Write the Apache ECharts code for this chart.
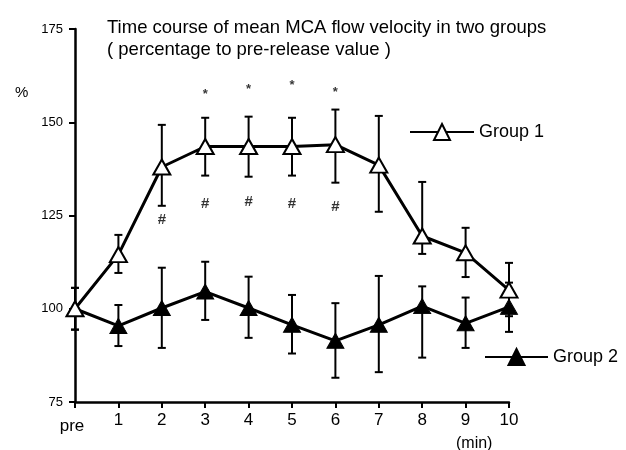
<!DOCTYPE html>
<html>
<head>
<meta charset="utf-8">
<script src="https://cdn.jsdelivr.net/npm/echarts@6/dist/echarts.min.js"></script>
<style>html,body{margin:0;padding:0;background:#fff}#c{width:626px;height:450px}</style>
</head>
<body>
<div id="c"></div>
<script>
// ---- data ----
const xValues = [0, 1, 2, 3, 4, 5, 6, 7, 8, 9, 10];
const xTickLabels = ['pre', '1', '2', '3', '4', '5', '6', '7', '8', '9', '10'];
const yTicks = [75, 100, 125, 150, 175];

const group1Mean  = [100, 114.5, 138, 143.5, 143.5, 143.5, 144, 138.5, 119.5, 115, 105];
const group1Upper = [105.6, 119.8, 149.3, 151.2, 151.5, 151.2, 153.4, 151.7, 134, 121.7, 112.3];
const group1Lower = [94.4, 109.6, 127.6, 135.7, 135.4, 135.7, 133.8, 126, 114.7, 108.5, 98];

const group2Mean  = [100, 95.4, 100.2, 104.6, 100.2, 95.7, 91.4, 95.7, 100.7, 96.1, 100.5];
const group2Upper = [105.6, 101, 111, 112.6, 108.6, 103.7, 101.5, 108.8, 106, 103, 107];
const group2Lower = [94.4, 90, 89.5, 97, 92.2, 88, 81.5, 83, 86.9, 89.5, 93.8];

// significance marks (x, y in data units)
const starX = [3, 4, 5, 6];
const starY = [157.4, 158.7, 159.8, 157.9];
const hashX = [2, 3, 4, 5, 6];
const hashY = [123.9, 128.1, 128.7, 128.1, 127.3];

const titleLines = ['Time course of mean MCA flow velocity in two groups', '( percentage to pre-release value )'];

// ---- build ----
const FONT = 'Liberation Sans, Arial, Helvetica, sans-serif';
function errData(lo, hi) { return xValues.map((x, i) => [x, lo[i], hi[i]]); }
function errRender(params, api) {
  const x = api.value(0);
  const p1 = api.coord([x, api.value(1)]);
  const p2 = api.coord([x, api.value(2)]);
  const w = 4;
  const st = { stroke: '#000', lineWidth: 2 };
  return {
    type: 'group',
    children: [
      { type: 'line', shape: { x1: p1[0], y1: p1[1], x2: p2[0], y2: p2[1] }, style: st },
      { type: 'line', shape: { x1: p1[0] - w, y1: p1[1], x2: p1[0] + w, y2: p1[1] }, style: st },
      { type: 'line', shape: { x1: p2[0] - w, y1: p2[1], x2: p2[0] + w, y2: p2[1] }, style: st }
    ]
  };
}

const chart = echarts.init(document.getElementById('c'), null, { renderer: 'canvas' });
chart.setOption({
  backgroundColor: '#fff',
  animation: false,
  textStyle: { fontFamily: FONT },
  grid: { left: 75, right: 117, top: 29, bottom: 48, containLabel: false },
  title: {
    text: titleLines.join('\n'),
    left: 102, top: 12,
    textStyle: { fontFamily: FONT, fontSize: 18.5, fontWeight: 'normal', color: '#000', lineHeight: 22 }
  },
  graphic: [
    { type: 'text', left: 15, top: 85, style: { text: '%', font: '15px ' + FONT, fill: '#000' } },
    { type: 'text', left: 456, top: 436, style: { text: '(min)', font: '16px ' + FONT, fill: '#000' } }
  ],
  legend: [
    { data: ['Group 1'], left: 404, top: 118, itemWidth: 64, itemHeight: 20, itemGap: 0,
      textStyle: { fontFamily: FONT, fontSize: 18, color: '#000', padding: [0, 0, 0, 0] } },
    { data: ['Group 2'], left: 479, top: 343, itemWidth: 63, itemHeight: 20, itemGap: 0,
      textStyle: { fontFamily: FONT, fontSize: 18, color: '#000', padding: [0, 0, 0, 0] } }
  ],
  xAxis: {
    type: 'value', min: 0, max: 10, interval: 1,
    axisLine: { show: true, lineStyle: { color: '#000', width: 2.5 } },
    axisTick: { show: true, length: 6, lineStyle: { color: '#000', width: 2 } },
    splitLine: { show: false },
    axisLabel: {
      margin: 10, color: '#000', fontSize: 17, fontFamily: FONT,
      formatter: v => v === 0 ? '{pre|' + xTickLabels[0] + '}' : xTickLabels[v],
      rich: { pre: { fontSize: 17, fontFamily: FONT, color: '#000', padding: [6, 6, 0, 0] } }
    }
  },
  yAxis: {
    type: 'value', min: yTicks[0], max: yTicks[yTicks.length - 1], interval: 25,
    axisLine: { show: true, lineStyle: { color: '#000', width: 2.5 } },
    axisTick: { show: true, length: 6, lineStyle: { color: '#000', width: 2 } },
    splitLine: { show: false },
    axisLabel: { margin: 12, color: '#000', fontSize: 13, fontFamily: FONT }
  },
  series: [
    { type: 'custom', name: 'err1', renderItem: errRender, data: errData(group1Lower, group1Upper), z: 1, silent: true },
    { type: 'custom', name: 'err2', renderItem: errRender, data: errData(group2Lower, group2Upper), z: 1, silent: true },
    {
      name: 'Group 2', type: 'line', data: xValues.map((x, i) => [x, group2Mean[i]]),
      symbol: 'triangle', symbolSize: [17, 15], z: 3,
      lineStyle: { color: '#000', width: 3 },
      itemStyle: { color: '#000', borderColor: '#000', borderWidth: 1 }
    },
    {
      name: 'Group 1', type: 'line', data: xValues.map((x, i) => [x, group1Mean[i]]),
      symbol: 'triangle', symbolSize: [17, 15], z: 4,
      lineStyle: { color: '#000', width: 3 },
      itemStyle: { color: '#fff', borderColor: '#000', borderWidth: 2 }
    },
    {
      type: 'scatter', name: 'stars', symbol: 'circle', symbolSize: 1, silent: true, z: 5,
      itemStyle: { color: 'rgba(0,0,0,0)' },
      data: starX.map((x, i) => [x, starY[i]]),
      label: { show: true, position: 'inside', formatter: '*', color: '#000', fontSize: 13, fontWeight: 'bold', fontFamily: FONT }
    },
    {
      type: 'scatter', name: 'hash', symbol: 'circle', symbolSize: 1, silent: true, z: 5,
      itemStyle: { color: 'rgba(0,0,0,0)' },
      data: hashX.map((x, i) => [x, hashY[i]]),
      label: { show: true, position: 'inside', formatter: '#', color: '#000', fontSize: 15, fontWeight: 'bold', fontFamily: FONT }
    }
  ]
});
</script>
</body>
</html>
